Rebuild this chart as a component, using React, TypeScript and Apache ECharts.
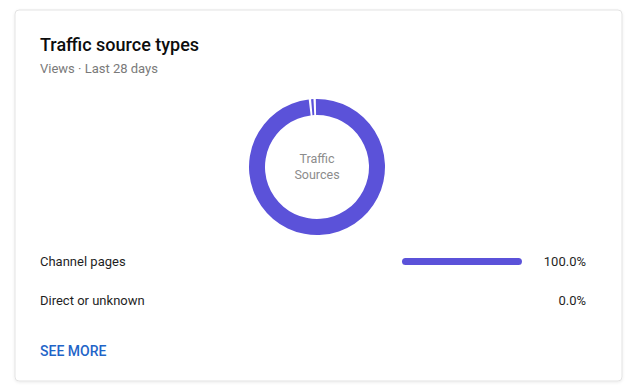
import React, { useEffect, useRef } from "react";
import * as echarts from "echarts";

const sources = ["Channel pages", "Direct or unknown"];
const shares = [99.96, 0.04];
const shareLabels = ["100.0%", "0.0%"];
const title = "Traffic source types";
const subtitle = "Views · Last 28 days";
const centerLines = ["Traffic", "Sources"];
const linkText = "SEE MORE";

const PURPLE = "#5b52d9";
const FONT = "Roboto, 'Noto Sans', sans-serif";

export default function App() {
  const ref = useRef<HTMLDivElement>(null);
  useEffect(() => {
    if (!ref.current) return;
    const chart = echarts.init(ref.current, undefined, { renderer: "svg" });
    chart.setOption({
      animation: false,
      backgroundColor: "#ffffff",
      textStyle: { fontFamily: FONT },
      graphic: [
        {
          type: "rect",
          z: -10,
          shape: { x: 15, y: 10, width: 607, height: 371, r: 4 },
          style: {
            fill: "#ffffff",
            stroke: "#e3e3e3",
            lineWidth: 1,
            shadowBlur: 3,
            shadowColor: "rgba(0,0,0,0.08)",
            shadowOffsetY: 1,
          },
        },
        {
          type: "text",
          x: 40,
          y: 35,
          style: { text: title, font: `500 18px ${FONT}`, fill: "#0d0d0d" },
        },
        {
          type: "text",
          x: 40,
          y: 62,
          style: { text: subtitle, font: `13px ${FONT}`, fill: "#7a7a7a" },
        },
        {
          type: "text",
          x: 317,
          y: 158,
          style: {
            text: centerLines[0],
            font: `12.5px ${FONT}`,
            fill: "#8c8c8c",
            textAlign: "center",
            textVerticalAlign: "middle",
          },
        },
        {
          type: "text",
          x: 317,
          y: 174,
          style: {
            text: centerLines[1],
            font: `12.5px ${FONT}`,
            fill: "#8c8c8c",
            textAlign: "center",
            textVerticalAlign: "middle",
          },
        },
        {
          type: "text",
          x: 40,
          y: 344,
          style: { text: linkText, font: `500 14px ${FONT}`, fill: "#1f65c8" },
        },
      ],
      grid: { left: 402, top: 242, width: 120, height: 78 },
      xAxis: { type: "value", min: 0, max: 100, show: false },
      yAxis: [
        {
          type: "category",
          data: sources,
          inverse: true,
          axisLine: { show: false },
          axisTick: { show: false },
          axisLabel: {
            align: "left",
            margin: 362,
            fontSize: 13,
            color: "#1f1f1f",
            fontFamily: FONT,
          },
        },
        {
          type: "category",
          data: shareLabels,
          inverse: true,
          position: "right",
          axisLine: { show: false },
          axisTick: { show: false },
          axisLabel: {
            align: "right",
            margin: 64,
            fontSize: 13,
            color: "#1f1f1f",
            fontFamily: FONT,
          },
        },
      ],
      series: [
        {
          type: "bar",
          data: shares.map((v) => ({
            value: v,
            itemStyle: { opacity: v < 0.05 ? 0 : 1 },
          })),
          barWidth: 7,
          itemStyle: { color: PURPLE, borderRadius: 4 },
          silent: true,
        },
        {
          type: "pie",
          center: [317, 167],
          radius: [52, 68],
          startAngle: 92,
          clockwise: true,
          padAngle: 2,
          minAngle: 2,
          label: { show: false },
          labelLine: { show: false },
          silent: true,
          itemStyle: { color: PURPLE },
          data: sources.map((name, i) => ({ name, value: shares[i] })),
        },
      ],
    });
    return () => chart.dispose();
  }, []);
  return (
    <div
      ref={ref}
      style={{ position: "fixed", left: 0, top: 0, width: 636, height: 392 }}
    />
  );
}
